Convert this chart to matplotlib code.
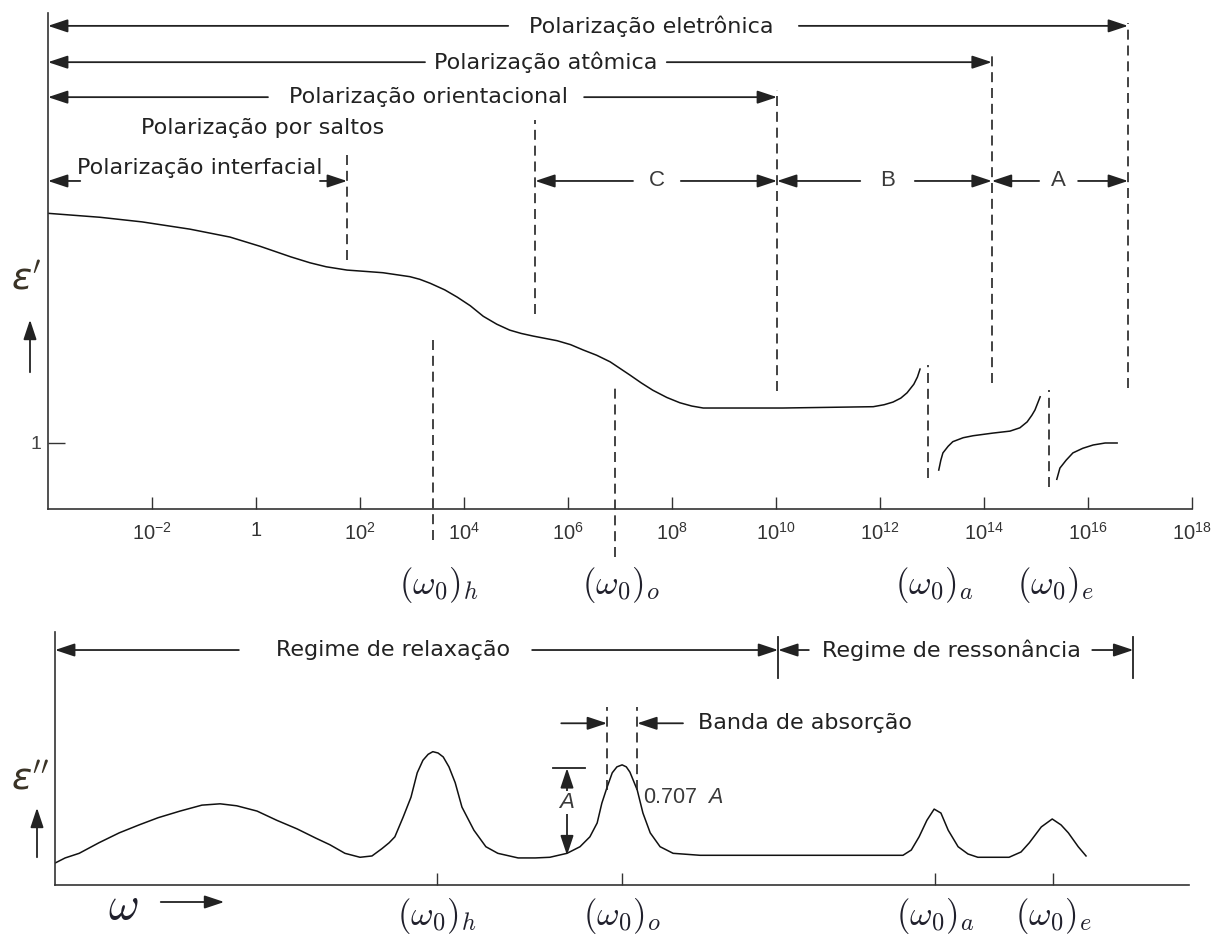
import numpy as np
import matplotlib.pyplot as plt
from matplotlib.patches import FancyArrowPatch

plt.rcParams['font.family'] = ['DejaVu Sans']
plt.rcParams['mathtext.fontset'] = 'custom'
plt.rcParams['mathtext.rm'] = 'Liberation Sans'
plt.rcParams['mathtext.it'] = 'Liberation Sans:italic'

# eps' curve (log10 omega, eps' in arbitrary units where 1 is the optical limit)
seg1_logw = [-4.00, -3.00, -2.19, -1.27, -0.50, 0.08, 0.67, 1.04, 1.35, 1.75, 2.10, 2.44,
             2.96, 3.15, 3.35, 3.63, 3.87, 4.12, 4.37, 4.63, 4.88, 5.10, 5.33, 5.79, 6.05,
             6.29, 6.55, 6.81, 7.19, 7.41, 7.63, 7.90, 8.15, 8.38, 8.60, 10.13, 11.87,
             12.08, 12.25, 12.40, 12.52, 12.65, 12.72, 12.77]
seg1_eps = [4.48, 4.42, 4.35, 4.24, 4.12, 3.98, 3.82, 3.73, 3.67, 3.62, 3.60, 3.58,
            3.52, 3.48, 3.42, 3.32, 3.21, 3.08, 2.92, 2.80, 2.71, 2.66, 2.62, 2.55, 2.49,
            2.41, 2.33, 2.23, 2.03, 1.91, 1.80, 1.69, 1.61, 1.56, 1.53, 1.53, 1.55,
            1.58, 1.62, 1.68, 1.76, 1.89, 2.00, 2.12]
seg2_logw = [13.13, 13.17, 13.21, 13.31, 13.40, 13.60, 13.79, 14.17, 14.50, 14.69, 14.83,
             14.92, 14.98, 15.08]
seg2_eps = [0.59, 0.74, 0.85, 0.95, 1.02, 1.08, 1.11, 1.15, 1.18, 1.23, 1.32, 1.42, 1.50, 1.70]
seg3_logw = [15.40, 15.46, 15.58, 15.71, 15.90, 16.10, 16.33, 16.56]
seg3_eps = [0.45, 0.62, 0.74, 0.85, 0.92, 0.97, 1.00, 1.00]

# eps'' curve
loss_logw = [-3.87, -3.67, -3.40, -3.02, -2.63, -2.25, -1.88, -1.46, -1.04, -0.69, -0.37,
             0.02, 0.40, 0.79, 1.15, 1.42, 1.71, 2.00, 2.23, 2.42, 2.56, 2.67, 2.83, 2.98,
             3.10, 3.21, 3.31, 3.40, 3.50, 3.60, 3.71, 3.83, 3.96, 4.19, 4.42, 4.65, 5.04,
             5.37, 5.65, 5.98, 6.23, 6.42, 6.56, 6.65, 6.75, 6.85, 6.94, 7.04, 7.12, 7.19,
             7.33, 7.44, 7.58, 7.77, 8.02, 8.54, 12.44, 12.60, 12.75, 12.90, 13.04, 13.17,
             13.31, 13.50, 13.69, 13.88, 14.48, 14.71, 14.87, 15.10, 15.31, 15.48, 15.62,
             15.81, 15.96]
loss_eps = [0.33, 0.41, 0.48, 0.64, 0.79, 0.91, 1.02, 1.12, 1.21, 1.23, 1.20,
            1.12, 0.98, 0.85, 0.71, 0.61, 0.48, 0.42, 0.44, 0.55, 0.64, 0.73, 1.03, 1.33,
            1.70, 1.89, 1.98, 2.02, 2.00, 1.94, 1.79, 1.55, 1.18, 0.83, 0.58, 0.48, 0.41,
            0.41, 0.42, 0.48, 0.58, 0.73, 0.94, 1.24, 1.48, 1.70, 1.79, 1.82, 1.79, 1.71,
            1.44, 1.09, 0.79, 0.58, 0.48, 0.45, 0.45, 0.53, 0.73, 0.98, 1.15, 1.09,
            0.83, 0.58, 0.47, 0.42, 0.42, 0.50, 0.64, 0.88, 1.00, 0.91, 0.79,
            0.58, 0.44]

# characteristic frequencies (log10)
w0_top = {'h': 3.40, 'o': 6.90, 'a': 12.92, 'e': 15.25}
w0_bot = {'h': 3.48, 'o': 7.04, 'a': 13.06, 'e': 15.33}
w0_tex = {'h': r'$(\omega_0)_h$', 'o': r'$(\omega_0)_o$', 'a': r'$(\omega_0)_a$', 'e': r'$(\omega_0)_e$'}

tick_exp = [-2, 0, 2, 4, 6, 8, 10, 12, 14, 16, 18]
tick_txt = [r'$\mathregular{10^{-2}}$', '1'] + [r'$\mathregular{10^{%d}}$' % e for e in tick_exp[2:]]

ink = '#222222'
grey = '#333333'
fig = plt.figure(figsize=(12.17, 9.34), dpi=100)

ax = fig.add_axes([48/1217, 425/934, 1144/1217, 496/934])
ax.set_xscale('log')
ax.set_xlim(1e-4, 1e18)
ax.set_ylim(0, 7.515)
for s in ['top', 'right']:
    ax.spines[s].set_visible(False)
for s in ['left', 'bottom']:
    ax.spines[s].set_color(grey)
    ax.spines[s].set_linewidth(1.2)
ax.set_xticks([10.0**e for e in tick_exp])
ax.set_xticklabels(tick_txt, fontsize=14.5, color=grey, family='Liberation Sans')
ax.minorticks_off()
ax.tick_params(axis='x', direction='in', length=9, width=1, pad=9, color=grey)
ax.set_yticks([1])
ax.set_yticklabels(['1'], fontsize=14, color='#444444', family='Liberation Sans')
ax.tick_params(axis='y', direction='in', length=12, width=1, pad=5, color=grey)

for lw_, ep_ in [(seg1_logw, seg1_eps), (seg2_logw, seg2_eps), (seg3_logw, seg3_eps)]:
    ax.plot(10.0**np.array(lw_), ep_, color='#111111', lw=1.1)

dash = dict(color=ink, lw=1.2, linestyle=(0, (6, 3.5)), clip_on=False)
# dashed boundaries: (log10 w, y from, y to)
for e, y0, y1 in [(1.75, 3.77, 5.44), (5.37, 2.95, 5.89), (10.02, 1.79, 6.35),
                  (14.15, 1.91, 6.88), (16.77, 1.83, 7.36), (12.92, 0.47, 2.18),
                  (15.25, 0.33, 1.80), (3.40, -0.47, 2.59), (6.90, -0.73, 1.91)]:
    ax.plot([10.0**e, 10.0**e], [y0, y1], **dash)


def arrow(a, x_from, x_to, y, both=False):
    style = '<|-|>' if both else '-|>'
    a.annotate('', xy=(10.0**x_to, y), xytext=(10.0**x_from, y),
               arrowprops=dict(arrowstyle=style + ',head_length=0.75,head_width=0.25',
                               color=ink, lw=1.3, shrinkA=0, shrinkB=0, mutation_scale=16),
               annotation_clip=False)


txt = dict(fontsize=16, color=ink, ha='center', va='center')
let = dict(fontsize=16, color='#3a3a3a', ha='center', va='center', family='Liberation Sans')
# Polarization rows
arrow(ax, 4.85, -4.0, 7.32); arrow(ax, 10.44, 16.77, 7.32)
ax.text(10.0**7.60, 7.32, 'Polarização eletrônica', **txt)
arrow(ax, 3.25, -4.0, 6.77); arrow(ax, 7.90, 14.15, 6.77)
ax.text(10.0**5.58, 6.77, 'Polarização atômica', **txt)
arrow(ax, 0.23, -4.0, 6.24); arrow(ax, 6.31, 10.02, 6.24)
ax.text(10.0**3.31, 6.24, 'Polarização orientacional', **txt)
ax.text(10.0**0.12, 5.77, 'Polarização por saltos', **txt)
arrow(ax, -3.38, -4.0, 4.97); arrow(ax, 1.23, 1.75, 4.97)
ax.text(10.0**-1.08, 5.17, 'Polarização interfacial', **txt)
for lab, cx, l_from, l_to, r_from, r_to in [('C', 7.71, 7.25, 5.37, 8.17, 10.02),
                                            ('B', 12.14, 11.62, 10.02, 12.67, 14.15),
                                            ('A', 15.44, 15.06, 14.15, 15.81, 16.77)]:
    arrow(ax, l_from, l_to, 4.97)
    arrow(ax, r_from, r_to, 4.97)
    ax.text(10.0**cx, 4.97, lab, **let)

for k, e in w0_top.items():
    ax.text(10.0**(e + 0.12), -1.15, w0_tex[k], fontsize=25, math_fontfamily='cm',
            color='#20202c', ha='center', va='center')

# bottom panel
bx = fig.add_axes([55/1217, 49/934, 1134/1217, 253/934])
bx.set_xscale('log')
bx.set_xlim(10.0**-3.865, 10.0**17.94)
bx.set_ylim(0, 3.833)
for s in ['top', 'right']:
    bx.spines[s].set_visible(False)
for s in ['left', 'bottom']:
    bx.spines[s].set_color(grey)
    bx.spines[s].set_linewidth(1.2)
bx.set_yticks([])
bx.minorticks_off()
bx.set_xticks([10.0**e for e in w0_bot.values()])
bx.set_xticklabels([w0_tex[k] for k in w0_bot], fontsize=25, color='#20202c')
for t in bx.get_xticklabels():
    t.set_math_fontfamily('cm')
bx.tick_params(axis='x', direction='in', length=9, width=1, pad=8, color=grey)

bx.plot(10.0**np.array(loss_logw), loss_eps, color='#111111', lw=1.1)

# regime rows
arrow(bx, -0.33, -3.865, 3.56); arrow(bx, 5.31, 10.04, 3.56)
bx.text(10.0**2.64, 3.56, 'Regime de relaxação', **txt)
arrow(bx, 10.63, 10.04, 3.56); arrow(bx, 16.08, 16.87, 3.56)
bx.text(10.0**13.37, 3.56, 'Regime de ressonância', **txt)
for e in [10.04, 16.87]:
    bx.plot([10.0**e, 10.0**e], [3.14, 3.76], color=ink, lw=1.3, clip_on=False)

# absorption band
for e in [6.75, 7.33]:
    bx.plot([10.0**e, 10.0**e], [1.44, 2.70], **dash)
arrow(bx, 5.87, 6.75, 2.45)
arrow(bx, 8.21, 7.33, 2.45)
bx.text(10.0**8.50, 2.45, 'Banda de absorção', fontsize=16, color=ink, ha='left', va='center')
bx.plot([10.0**5.71, 10.0**6.33], [1.77, 1.77], color=ink, lw=1.3)
bx.annotate('', xy=(10.0**5.98, 1.77), xytext=(10.0**5.98, 0.45),
            arrowprops=dict(arrowstyle='<|-|>,head_length=0.75,head_width=0.25', color=ink,
                            lw=1.3, shrinkA=0, shrinkB=0, mutation_scale=16))
bx.text(10.0**5.98, 1.25, 'A', fontsize=16, style='italic', color='#3a3a3a', ha='center',
        va='center', family='Liberation Sans',
        bbox=dict(facecolor='white', edgecolor='none', pad=0.5))
bx.text(10.0**7.44, 1.33, r'0.707  $\mathit{A}$', fontsize=15.5, color='#3a3a3a',
        ha='left', va='center', family='Liberation Sans')

# axis symbols
fig.text(26/1217, 1 - 280/934, r"$\varepsilon^{\prime}$", fontsize=27, math_fontfamily='dejavusans',
         color='#3a3326', ha='center', va='center')
fig.text(30/1217, 1 - 780/934, r"$\varepsilon^{\prime\prime}$", fontsize=27,
         math_fontfamily='dejavusans', color='#3a3326', ha='center', va='center')
for x_, y0_, y1_ in [(30, 375, 317), (37, 860, 805)]:
    fig.patches.append(FancyArrowPatch(
        (x_/1217, 1 - y0_/934), (x_/1217, 1 - y1_/934), transform=fig.transFigure,
        arrowstyle='-|>,head_length=0.75,head_width=0.25', mutation_scale=16, color=ink, lw=1.3))
fig.text(123/1217, 1 - 906/934, r'$\omega$', fontsize=34, math_fontfamily='cm',
         color='#20202c', ha='center', va='center')
fig.patches.append(FancyArrowPatch(
    (158/1217, 1 - 902/934), (227/1217, 1 - 902/934), transform=fig.transFigure,
    arrowstyle='-|>,head_length=0.75,head_width=0.25', mutation_scale=16, color=ink, lw=1.3))

fig.savefig('out.png', dpi=100)
